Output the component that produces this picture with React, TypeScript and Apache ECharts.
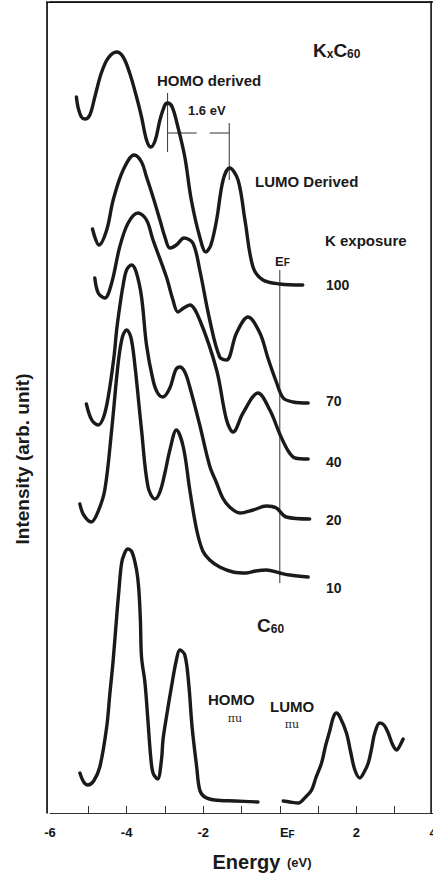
import { useEffect, useRef } from "react";
import * as echarts from "echarts";

// ---- Spectra: [energy (eV), intensity (arb. unit, offset stacked)] ----
const k100 = [
  [-5.31, 716], [-5.27, 706], [-5.18, 696], [-5.09, 694], [-4.96, 698], [-4.83, 716],
  [-4.66, 740], [-4.48, 755], [-4.26, 761], [-4.09, 756], [-3.92, 740], [-3.74, 716],
  [-3.61, 696], [-3.48, 673], [-3.37, 666], [-3.25, 673], [-3.13, 693], [-3.0, 708],
  [-2.93, 710], [-2.81, 706], [-2.66, 686], [-2.48, 656], [-2.31, 613], [-2.09, 576],
  [-1.93, 561], [-1.8, 568], [-1.65, 593], [-1.48, 633], [-1.31, 645], [-1.09, 633],
  [-0.91, 593], [-0.7, 546], [-0.44, 533], [0, 529], [0.6, 528],
];
const k70 = [
  [-4.89, 584], [-4.72, 568], [-4.52, 583], [-4.35, 613], [-4.09, 643], [-3.8, 658],
  [-3.61, 651], [-3.48, 636], [-3.31, 616], [-3.13, 593], [-3.0, 576], [-2.87, 565],
  [-2.7, 568], [-2.5, 575], [-2.27, 570], [-2.09, 543], [-1.83, 493], [-1.57, 456],
  [-1.39, 453], [-1.13, 480], [-0.83, 496], [-0.52, 480], [-0.31, 455], [-0.09, 431],
  [0.09, 415], [0.35, 411], [0.74, 410],
];
const k40 = [
  [-4.83, 535], [-4.74, 520], [-4.57, 515], [-4.39, 530], [-4.18, 566], [-3.96, 590],
  [-3.7, 600], [-3.48, 593], [-3.31, 573], [-2.96, 536], [-2.79, 513], [-2.66, 501],
  [-2.51, 505], [-2.35, 508], [-2.09, 493], [-1.65, 443], [-1.39, 393], [-1.22, 381],
  [-0.96, 400], [-0.57, 420], [-0.26, 403], [0, 379], [0.22, 362], [0.4, 355], [0.74, 354],
];
const k20 = [
  [-5.05, 409], [-4.91, 393], [-4.74, 388], [-4.6, 396], [-4.48, 416], [-4.33, 456],
  [-4.26, 483], [-4.18, 506], [-4.09, 528], [-4.0, 543], [-3.87, 548], [-3.75, 541],
  [-3.61, 516], [-3.48, 468], [-3.31, 433], [-3.19, 420], [-3.05, 416], [-2.87, 425],
  [-2.72, 443], [-2.61, 446], [-2.48, 441], [-2.35, 426], [-2.09, 388], [-1.83, 347],
  [-1.65, 330], [-1.49, 315], [-1.31, 306], [-1.04, 300], [-0.7, 303], [-0.35, 307],
  [-0.09, 305], [0.17, 296], [0.78, 294],
];
const k10 = [
  [-5.22, 309], [-5.12, 298], [-4.92, 291], [-4.75, 301], [-4.57, 323], [-4.39, 383],
  [-4.22, 450], [-4.11, 476], [-4.0, 483], [-3.89, 476], [-3.79, 450], [-3.61, 383],
  [-3.44, 326], [-3.26, 314], [-3.13, 321], [-3.0, 340], [-2.87, 363], [-2.7, 383],
  [-2.52, 366], [-2.35, 323], [-2.17, 283], [-2.01, 262], [-1.83, 253], [-1.57, 246],
  [-1.22, 241], [-0.87, 240], [-0.63, 242], [-0.35, 243], [0, 240], [0.26, 238], [0.74, 236],
];
const c60Occupied = [
  [-5.22, 40], [-5.12, 31], [-5.01, 28], [-4.86, 32], [-4.7, 46], [-4.52, 86],
  [-4.44, 118], [-4.35, 153], [-4.26, 196], [-4.2, 223], [-4.13, 250], [-4.05, 260],
  [-3.97, 264], [-3.86, 261], [-3.74, 243], [-3.68, 223], [-3.64, 193], [-3.61, 156],
  [-3.52, 130], [-3.45, 96], [-3.37, 56], [-3.31, 40], [-3.19, 34], [-3.09, 53],
  [-3.05, 73], [-2.96, 96], [-2.83, 126], [-2.7, 153], [-2.61, 163], [-2.48, 158],
  [-2.38, 130], [-2.29, 86], [-2.17, 46], [-2.09, 23], [-1.96, 16], [-1.7, 13],
  [-1.17, 12], [-0.57, 11],
];
const c60Empty = [
  [0.09, 12], [0.26, 11], [0.48, 10], [0.65, 15], [0.83, 23], [0.94, 35], [1.09, 50],
  [1.2, 68], [1.31, 83], [1.4, 96], [1.48, 100], [1.57, 96], [1.74, 80], [1.85, 61],
  [1.96, 43], [2.09, 35], [2.19, 40], [2.31, 50], [2.4, 65], [2.48, 80], [2.61, 90],
  [2.72, 88], [2.83, 80], [2.95, 68], [3.05, 63], [3.13, 67], [3.22, 74],
];

// ---- Annotation markers (data coordinates) ----
const efLine = [[0, 543], [0, 230]];
const homoTick = [[-2.93, 720], [-2.93, 661]];
const lumoTick = [[-1.32, 690], [-1.32, 633]];
const gapLeft = [[-2.93, 680], [-2.17, 680]];
const gapRight = [[-1.83, 680], [-1.32, 680]];

// ---- Axis ticks / labels ----
const tickValues = [-5, -4, -3, -2, -1, 0, 1, 2, 3];
const labelValues = [-6, -4, -2, 0, 2, 4];

const FONT = '"Liberation Sans", Arial, Helvetica, sans-serif';
const INK = "#1a1a1a";

function txt(x: number, y: number, text: string, size = 15, extra: any = {}) {
  return {
    type: "text",
    x,
    y,
    silent: true,
    style: {
      text,
      fill: INK,
      fontFamily: FONT,
      fontWeight: "bold",
      fontSize: size,
      align: "left",
      verticalAlign: "middle",
      textAlign: "left",
      textVerticalAlign: "middle",
      ...extra,
    },
  };
}

function bar(x: number, y: number, width: number, height: number) {
  return {
    type: "rect",
    silent: true,
    z: 100,
    shape: { x, y, width, height },
    style: { fill: "#111", stroke: "none" },
  };
}

export default function App() {
  const ref = useRef<HTMLDivElement>(null);

  useEffect(() => {
    const chart = echarts.init(ref.current!, null, { renderer: "svg" });

    const curve = (name: string, data: number[][]) => ({
      name,
      type: "line",
      data,
      smooth: 0.35,
      symbol: "none",
      z: 3,
      lineStyle: { color: INK, width: 3.4, cap: "round", join: "round" },
    });
    const marker = (name: string, data: number[][]) => ({
      name,
      type: "line",
      data,
      symbol: "none",
      z: 2,
      lineStyle: { color: "#333", width: 1 },
    });

    const option: any = {
      animation: false,
      backgroundColor: "#fff",
      grid: { left: 50, right: 0, top: 2, bottom: 61, containLabel: false, outerBoundsMode: "none" },
      xAxis: [
        {
          type: "value",
          min: -6,
          max: 4,
          interval: 1,
          splitLine: { show: false },
          axisLine: { show: true, lineStyle: { color: "#333", width: 1 } },
          axisTick: {
            show: true,
            inside: true,
            length: 7,
            customValues: tickValues,
            lineStyle: { color: "#333", width: 1 },
          },
          axisLabel: {
            margin: 13,
            customValues: labelValues,
            showMinLabel: true,
            showMaxLabel: true,
            color: "#111",
            fontFamily: FONT,
            fontWeight: "bold",
            fontSize: 13,
            formatter: (v: number) => {
              if (Math.abs(v) % 2 === 1) return "";
              if (v === 0) return "{e|E}{f|F}";
              return String(v);
            },
            rich: {
              e: { fontFamily: FONT, fontWeight: "bold", fontSize: 13, color: "#111", padding: [0, 0, 0, 15] },
              f: { fontFamily: FONT, fontWeight: "bold", fontSize: 10, color: "#111", verticalAlign: "bottom" },
            },
          },
        },
        {
          type: "value",
          position: "top",
          min: -6,
          max: 4,
          axisLine: { show: true, onZero: false, lineStyle: { color: "#222", width: 1.5 } },
          axisTick: { show: false },
          axisLabel: { show: false },
          splitLine: { show: false },
        },
      ],
      yAxis: {
        type: "value",
        min: 0,
        max: 811,
        show: false,
      },
      series: [
        marker("EF", efLine),
        marker("HOMO tick", homoTick),
        marker("LUMO tick", lumoTick),
        marker("gap left", gapLeft),
        marker("gap right", gapRight),
        curve("100", k100),
        curve("70", k70),
        curve("40", k40),
        curve("20", k20),
        curve("10", k10),
        curve("C60 occupied", c60Occupied),
        curve("C60 empty", c60Empty),
      ],
      graphic: [
        bar(46.2, 1.5, 1.7, 812),
        bar(46.2, 1.5, 386, 1.6),
        bar(430.3, 1.5, 1.6, 812),
        {
          type: "text",
          x: 313,
          y: 50,
          silent: true,
          style: {
            text: "{a|K}{b|x}{a|C}{b|60}",
            align: "left",
            verticalAlign: "middle",
            textAlign: "left",
            textVerticalAlign: "middle",
            rich: {
              a: { fontFamily: FONT, fontWeight: "bold", fontSize: 19, fill: INK, color: INK },
              b: { fontFamily: FONT, fontWeight: "bold", fontSize: 12, fill: INK, color: INK, verticalAlign: "bottom" },
            },
          },
        },
        txt(157, 80, "HOMO derived", 15),
        txt(188, 110, "1.6 eV", 13),
        txt(255, 181, "LUMO Derived", 15),
        txt(325, 240, "K exposure", 15),
        {
          type: "text",
          x: 275,
          y: 261,
          silent: true,
          style: {
            text: "{a|E}{b|F}",
            align: "left",
            verticalAlign: "middle",
            textAlign: "left",
            textVerticalAlign: "middle",
            rich: {
              a: { fontFamily: FONT, fontWeight: "bold", fontSize: 13, fill: INK, color: INK },
              b: { fontFamily: FONT, fontWeight: "bold", fontSize: 10, fill: INK, color: INK, verticalAlign: "bottom" },
            },
          },
        },
        txt(326, 285, "100", 14),
        txt(326, 401, "70", 14),
        txt(326, 462, "40", 14),
        txt(326, 520, "20", 14),
        txt(326, 588, "10", 14),
        {
          type: "text",
          x: 257,
          y: 625,
          silent: true,
          style: {
            text: "{a|C}{b|60}",
            align: "left",
            verticalAlign: "middle",
            textAlign: "left",
            textVerticalAlign: "middle",
            rich: {
              a: { fontFamily: FONT, fontWeight: "bold", fontSize: 19, fill: INK, color: INK },
              b: { fontFamily: FONT, fontWeight: "bold", fontSize: 12, fill: INK, color: INK, verticalAlign: "bottom" },
            },
          },
        },
        txt(208, 699, "HOMO", 15),
        txt(235, 718, "πu", 11, { fontFamily: '"DejaVu Serif", serif', fontWeight: "normal", align: "center", textAlign: "center" }),
        txt(270, 706, "LUMO", 15),
        txt(292, 724, "πu", 11, { fontFamily: '"DejaVu Serif", serif', fontWeight: "normal", align: "center", textAlign: "center" }),
        {
          type: "text",
          x: 262,
          y: 862,
          silent: true,
          style: {
            text: "{a|Energy}  {b|(eV)}",
            align: "center",
            verticalAlign: "middle",
            textAlign: "center",
            textVerticalAlign: "middle",
            rich: {
              a: { fontFamily: FONT, fontWeight: "bold", fontSize: 20, fill: INK, color: INK },
              b: { fontFamily: FONT, fontWeight: "bold", fontSize: 13, fill: INK, color: INK },
            },
          },
        },
        {
          type: "text",
          x: 22,
          y: 459,
          rotation: Math.PI / 2,
          silent: true,
          style: {
            text: "Intensity (arb. unit)",
            fill: INK,
            fontFamily: FONT,
            fontWeight: "bold",
            fontSize: 19,
            align: "center",
            verticalAlign: "middle",
            textAlign: "center",
            textVerticalAlign: "middle",
          },
        },
      ],
    };

    chart.setOption(option);
    return () => chart.dispose();
  }, []);

  return (
    <div
      ref={ref}
      style={{ position: "fixed", left: 0, top: 0, width: 433, height: 874, background: "#fff" }}
    />
  );
}
